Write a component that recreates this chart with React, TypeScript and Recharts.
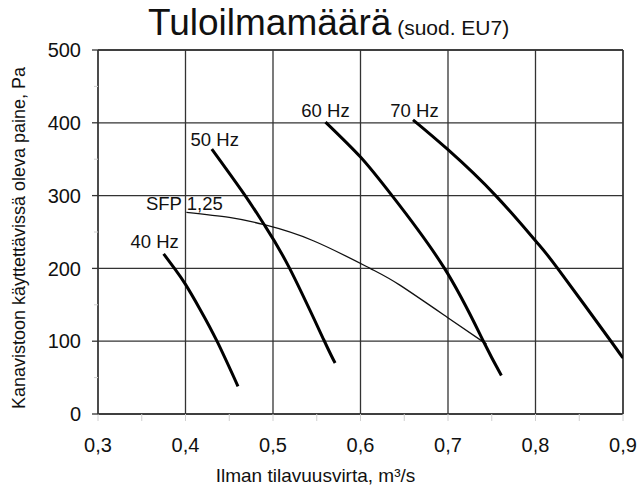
import React from 'react';
import { LineChart, Line, XAxis, YAxis, CartesianGrid, ReferenceLine, LabelList, Label } from 'recharts';

const FONT = '"Liberation Sans", Arial, Helvetica, sans-serif';

// axis ticks (minor ticks every 0.05 / 50, labels only on the majors)
const xTicks = [0.3, 0.35, 0.4, 0.45, 0.5, 0.55, 0.6, 0.65, 0.7, 0.75, 0.8, 0.85, 0.9];
const xMajor = [0.3, 0.4, 0.5, 0.6, 0.7, 0.8, 0.9];
const yTicks = [0, 50, 100, 150, 200, 250, 300, 350, 400, 450, 500];
const yMajor = [0, 100, 200, 300, 400, 500];

// fan curves (m3/s, Pa)
const hz40 = [
  { x: 0.375, y: 220 },
  { x: 0.388, y: 199 },
  { x: 0.4, y: 178 },
  { x: 0.417, y: 143 },
  { x: 0.436, y: 100 },
  { x: 0.46, y: 38 },
];
const hz50 = [
  { x: 0.43, y: 364 },
  { x: 0.467, y: 302 },
  { x: 0.49, y: 260 },
  { x: 0.519, y: 200 },
  { x: 0.558, y: 102 },
  { x: 0.571, y: 70 },
];
const hz60 = [
  { x: 0.56, y: 401 },
  { x: 0.6, y: 353 },
  { x: 0.636, y: 300 },
  { x: 0.696, y: 200 },
  { x: 0.74, y: 101 },
  { x: 0.761, y: 53 },
];
const hz70 = [
  { x: 0.66, y: 404 },
  { x: 0.7, y: 363 },
  { x: 0.7545, y: 300 },
  { x: 0.8, y: 238 },
  { x: 0.824, y: 202 },
  { x: 0.885, y: 102 },
  { x: 0.9, y: 76 },
];
const sfp = [
  { x: 0.401, y: 277 },
  { x: 0.45, y: 270 },
  { x: 0.49, y: 260 },
  { x: 0.546, y: 238 },
  { x: 0.611, y: 200 },
  { x: 0.645, y: 177 },
  { x: 0.699, y: 133 },
  { x: 0.744, y: 96 },
];

const fmt = (v: number) => String(Math.round(v * 10) / 10).replace('.', ',');
const isMajor = (v: number, list: number[]) => list.some((m) => Math.abs(m - v) < 1e-6);

const XTick = (props: any) => {
  const { x, y, payload } = props;
  const v = payload.value;
  return (
    <g>
      <line x1={x} x2={x} y1={y} y2={y + 7} stroke="#d0d0d0" strokeWidth={1} />
      {isMajor(v, xMajor) && (
        <text x={x} y={y + 38} textAnchor="middle" fontSize={20} fill="#111" fontFamily={FONT}>
          {fmt(v)}
        </text>
      )}
    </g>
  );
};

const YTick = (props: any) => {
  const { x, y, payload } = props;
  const v = payload.value;
  const major = isMajor(v, yMajor);
  return (
    <g>
      <line x1={x - (major ? 6 : 4)} x2={x} y1={y} y2={y} stroke={major ? '#333' : '#d0d0d0'} strokeWidth={major ? 1.3 : 1} />
      {major && (
        <text x={x - 17} y={y} dy="0.36em" textAnchor="end" fontSize={20} fill="#111" fontFamily={FONT}>
          {v}
        </text>
      )}
    </g>
  );
};

// text next to the first point of a curve
const firstLabel = (text: string, dx: number, dy: number) => (props: any) => {
  const { x, y, index } = props;
  if (index !== 0) return null;
  return (
    <text x={x + dx} y={y + dy} textAnchor="middle" fontSize={18.5} fill="#111" fontFamily={FONT}>
      {text}
    </text>
  );
};

export default function App() {
  return (
    <div style={{ position: 'absolute', left: 0, top: 0, width: 639, height: 490, background: '#fff' }}>
      <svg width={639} height={50} style={{ position: 'absolute', left: 0, top: 0 }}>
        <text x={148} y={35} fill="#111" fontFamily={FONT}>
          <tspan fontSize={37}>Tuloilmamäärä</tspan>
          <tspan fontSize={21}> (suod. EU7)</tspan>
        </text>
      </svg>
      <LineChart width={639} height={490} margin={{ top: 50, right: 16, bottom: 0, left: 0 }}>
        <CartesianGrid
          stroke="#333"
          strokeWidth={1.3}
          horizontalValues={yMajor}
          verticalValues={xMajor}
        />
        <XAxis
          type="number"
          dataKey="x"
          domain={[0.3, 0.9]}
          ticks={xTicks}
          interval={0}
          height={76}
          tickSize={0}
          tickMargin={0}
          tickLine={false}
          tick={<XTick />}
          axisLine={{ stroke: '#333', strokeWidth: 1.3 }}
          allowDataOverflow
        >
          <Label
            content={(p: any) => {
              const vb = p.viewBox;
              return (
                <text x={vb.x + vb.width / 2 - 45} y={vb.y + 68} textAnchor="middle" fontSize={19} fill="#111" fontFamily={FONT}>
                  Ilman tilavuusvirta, m³/s
                </text>
              );
            }}
          />
        </XAxis>
        <YAxis
          type="number"
          domain={[0, 500]}
          ticks={yTicks}
          interval={0}
          width={98}
          tickSize={0}
          tickMargin={0}
          tickLine={false}
          tick={<YTick />}
          axisLine={{ stroke: '#333', strokeWidth: 1.3 }}
          allowDataOverflow
        >
          <Label
            content={(p: any) => {
              const vb = p.viewBox;
              const cx = 19;
              const cy = vb.y + vb.height / 2 + 6;
              return (
                <text
                  x={cx}
                  y={cy}
                  transform={`rotate(-90, ${cx}, ${cy})`}
                  textAnchor="middle"
                  dominantBaseline="central"
                  fontSize={18}
                  fill="#111"
                  fontFamily={FONT}
                >
                  Kanavistoon käyttettävissä oleva paine, Pa
                </text>
              );
            }}
          />
        </YAxis>
        <ReferenceLine y={500} stroke="#333" strokeWidth={1.3} />
        <ReferenceLine x={0.9} stroke="#333" strokeWidth={1.3} />

        <Line data={sfp} dataKey="y" name="SFP 1,25" type="natural" stroke="#111" strokeWidth={1.3} dot={false} isAnimationActive={false}>
          <LabelList dataKey="y" content={firstLabel('SFP 1,25', -2, -2)} />
        </Line>
        <Line data={hz40} dataKey="y" name="40 Hz" type="natural" stroke="#000" strokeWidth={3} dot={false} isAnimationActive={false}>
          <LabelList dataKey="y" content={firstLabel('40 Hz', -9, -6)} />
        </Line>
        <Line data={hz50} dataKey="y" name="50 Hz" type="natural" stroke="#000" strokeWidth={3} dot={false} isAnimationActive={false}>
          <LabelList dataKey="y" content={firstLabel('50 Hz', 3, -3)} />
        </Line>
        <Line data={hz60} dataKey="y" name="60 Hz" type="natural" stroke="#000" strokeWidth={3} dot={false} isAnimationActive={false}>
          <LabelList dataKey="y" content={firstLabel('60 Hz', 0, -5)} />
        </Line>
        <Line data={hz70} dataKey="y" name="70 Hz" type="natural" stroke="#000" strokeWidth={3} dot={false} isAnimationActive={false}>
          <LabelList dataKey="y" content={firstLabel('70 Hz', 1.5, -3)} />
        </Line>
      </LineChart>
    </div>
  );
}
